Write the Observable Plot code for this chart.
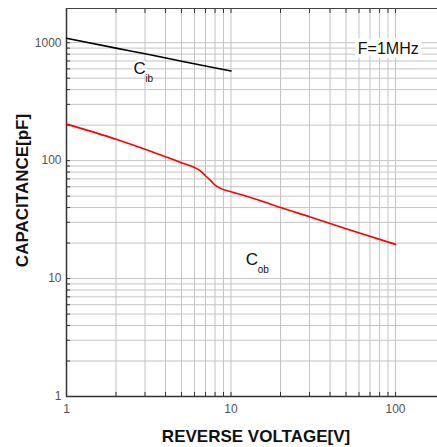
<!DOCTYPE html>
<html>
<head>
<meta charset="utf-8">
<script src="https://cdn.jsdelivr.net/npm/d3@7"></script>
<script src="https://cdn.jsdelivr.net/npm/@observablehq/plot@0.6"></script>
<style>
  html, body { margin: 0; padding: 0; background: #fff; }
  svg { display: block; font-family: "Liberation Sans", Arial, sans-serif; }
</style>
</head>
<body>
<div id="chart"></div>
<script>
// Reverse voltage [V] vs capacitance [pF]
const cibVoltage = [1, 2, 3, 5, 7, 10];
const cibCap = [1090, 900, 805, 697, 634, 576];

const cobVoltage = [1, 2, 3, 4, 5, 6, 6.5, 7, 7.5, 8, 8.6, 9.3, 10, 15, 20, 30, 50, 100];
const cobCap = [204, 152, 125, 108, 96, 87.5, 82, 74.5, 68, 62, 58.5, 56, 54.5, 46, 40, 33.5, 26.5, 19.5];

const xDomain = [1, 180];
const yDomain = [1, 1950];
const xGrid = [1,2,3,4,5,6,7,8,9,10,20,30,40,50,60,70,80,90,100];
const yGrid = [1,2,3,4,5,6,7,8,9,10,20,30,40,50,60,70,80,90,100,200,300,400,500,600,700,800,900,1000];
const xTickLabels = [1, 10, 100];
const yTickLabels = [1, 10, 100, 1000];

const xTitle = "REVERSE VOLTAGE[V]";
const yTitle = "CAPACITANCE[pF]";
const labels = [
  {main: "C", sub: "ib", x: 2.55, y: 600},
  {main: "C", sub: "ob", x: 12.3, y: 14.5}
];
const note = {text: "F=1MHz", x: 59, y: 880};

const cib = cibVoltage.map((v, i) => ({v, c: cibCap[i]}));
const cob = cobVoltage.map((v, i) => ({v, c: cobCap[i]}));

const chart = Plot.plot({
  width: 437,
  height: 447,
  marginLeft: 66,
  marginRight: 0,
  marginTop: 8,
  marginBottom: 51,
  style: {background: "#fff", fontFamily: "Liberation Sans, Arial, sans-serif"},
  x: {type: "log", domain: xDomain},
  y: {type: "log", domain: yDomain},
  marks: [
    Plot.gridX(xGrid, {stroke: "#c4c4c4", strokeOpacity: 1, strokeWidth: 1}),
    Plot.gridY(yGrid, {stroke: "#c4c4c4", strokeOpacity: 1, strokeWidth: 1}),
    Plot.axisX(xGrid, {tickSize: -4, tickFormat: () => "", stroke: "#333", label: null}),
    Plot.axisX(xGrid, {anchor: "top", tickSize: -4, tickFormat: () => "", stroke: "#333", label: null}),
    Plot.axisY(yGrid, {tickSize: -4, tickFormat: () => "", stroke: "#333", label: null}),
    Plot.axisX(xTickLabels, {tickSize: 0, tickPadding: 8, fontSize: 12, fill: "#555", label: null, tickFormat: d => String(d)}),
    Plot.axisY(yTickLabels, {tickSize: 0, tickPadding: 5, fontSize: 12, fill: "#555", label: null, tickFormat: d => String(d)}),
    Plot.ruleX([xDomain[0]], {stroke: "#333", strokeWidth: 1.5}),
    Plot.ruleY([yDomain[0]], {stroke: "#333", strokeWidth: 1.5}),
    Plot.ruleY([yDomain[1]], {stroke: "#444", strokeWidth: 1.2}),
    Plot.line(cib, {x: "v", y: "c", stroke: "#000", strokeWidth: 1.6, curve: "monotone-x"}),
    Plot.line(cob, {x: "v", y: "c", stroke: "#ff0000", strokeWidth: 1.6, curve: "monotone-x"}),
    Plot.text(labels, {x: "x", y: "y", text: "main", textAnchor: "start", fontSize: 17, fill: "#111", stroke: "white", strokeWidth: 4, paintOrder: "stroke"}),
    Plot.text(labels, {x: "x", y: "y", text: "sub", textAnchor: "start", fontSize: 10, dx: 12, dy: 10, fill: "#111"}),
    Plot.text([note], {x: "x", y: "y", text: "text", textAnchor: "start", fontSize: 16, fill: "#111", stroke: "white", strokeWidth: 8, paintOrder: "stroke"}),
    Plot.text([xTitle], {frameAnchor: "bottom", text: d => d, textAnchor: "middle", lineAnchor: "middle", dy: 40, dx: 4, fontSize: 17, fontWeight: "bold", fill: "#111", letterSpacing: "-0.5px"}),
    Plot.text([yTitle], {frameAnchor: "left", text: d => d, textAnchor: "middle", lineAnchor: "middle", rotate: -90, dx: -44, dy: -12, fontSize: 17, fontWeight: "bold", fill: "#111", letterSpacing: "-0.5px"})
  ]
});
document.getElementById("chart").appendChild(chart);
</script>
</body>
</html>
